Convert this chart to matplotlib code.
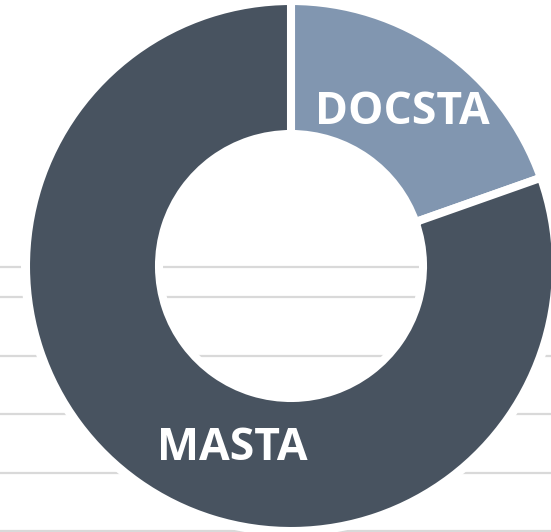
import matplotlib
matplotlib.use("Agg")
import matplotlib.pyplot as plt
from matplotlib.colors import to_rgba
from matplotlib.patches import Wedge

categories = ["DOCSTA", "MASTA"]
values = [19.6, 80.4]
colors = ["#7D93AE", "#424D5B"]
grid_rows = [267, 297, 355.5, 414, 472.5, 530.5]  # background gridlines (px from top)

W, H = 551, 532
fig = plt.figure(figsize=(W / 100, H / 100), dpi=100)
ax = fig.add_axes([0, 0, 1, 1])

cx, cy = 291, H - 266
R, ring = 265, 133

# background gridlines
for y in grid_rows:
    ax.plot([0, W], [H - y, H - y], color="#D9D9D9", lw=1.6, zorder=0, solid_capstyle="butt")

# white halo around the ring
ax.add_patch(Wedge((cx, cy), R + 5, 0, 360, width=ring + 7, facecolor="white",
                   edgecolor="none", zorder=1))

wedges, _ = ax.pie(values, colors=[to_rgba(c, 0.97) for c in colors],
                   startangle=90, counterclock=False,
                   radius=R, center=(cx, cy),
                   wedgeprops=dict(width=ring, edgecolor="white", linewidth=5.8))
for w in wedges:
    w.set_zorder(2)

label_pos = {"DOCSTA": (402, 124), "MASTA": (232, 460)}
for name in categories:
    x, y = label_pos[name]
    ax.text(x, H - y, name, ha="center", va="baseline", color="white",
            fontsize=32, fontweight="bold", family=["Open Sans", "DejaVu Sans"], zorder=3)

ax.set_xlim(0, W)
ax.set_ylim(0, H)
ax.set_aspect("equal")
ax.axis("off")
fig.savefig("out.png", dpi=100)
